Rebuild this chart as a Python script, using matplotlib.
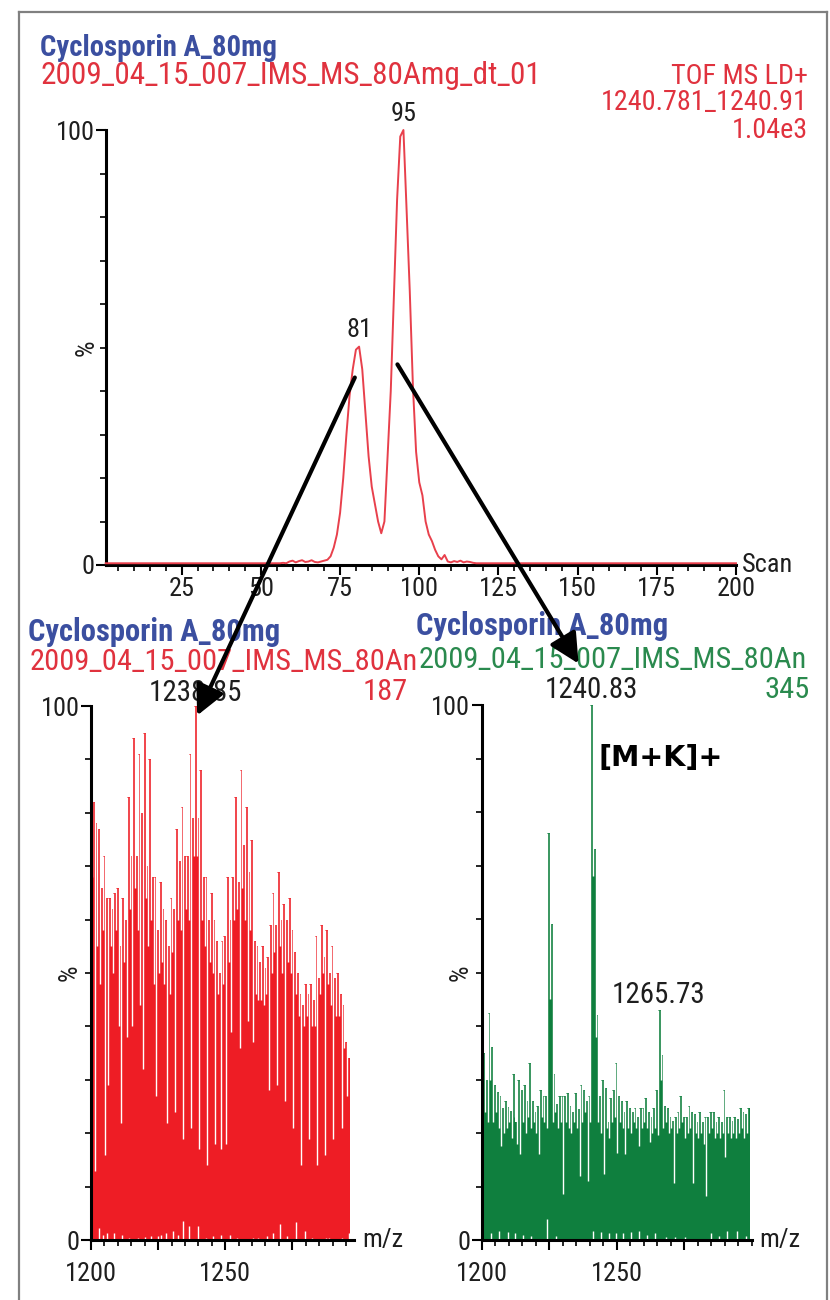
import numpy as np
import matplotlib
matplotlib.use("Agg")
import matplotlib.pyplot as plt
from matplotlib import font_manager
from matplotlib.patches import FancyArrowPatch
from matplotlib.lines import Line2D
from matplotlib.ticker import FixedLocator, MultipleLocator

# ---------------- data ----------------
chrom_scan = [1, 56, 57, 58, 59, 60, 61, 62, 63, 64, 65, 66, 67, 68, 69, 70,
              71, 72, 73, 74, 75, 76, 77, 78, 79, 80, 81, 82, 83, 84, 85, 86,
              87, 88, 89, 90, 91, 92, 93, 94, 95, 96, 97, 98, 99, 100, 101,
              102, 103, 104, 105, 106, 107, 108, 109, 110, 111, 112, 113, 114,
              115, 116, 117, 118, 200]
chrom_int = [0.4, 0.4, 0.5, 0.4, 0.8, 1.0, 0.6, 0.9, 1.1, 0.7, 0.8, 1.1, 0.7,
             0.6, 0.8, 1.0, 1.2, 2.0, 4.0, 7.0, 12.0, 20.0, 30.0, 39.0, 45.0,
             49.5, 50.2, 45.0, 35.0, 25.0, 18.0, 14.0, 10.0, 7.3, 10.0, 25.0,
             40.0, 62.0, 84.0, 98.5, 100.0, 81.6, 63.0, 41.0, 26.0, 19.0, 16.0,
             10.0, 7.0, 5.5, 3.5, 2.0, 1.3, 2.3, 0.8, 0.6, 0.9, 0.7, 1.0, 0.6,
             0.8, 0.7, 0.5, 0.4, 0.4]
chrom_peak_labels = [81, 95]

# left spectrum (red), one value per isotope step starting at 1199.85
red_start = 1199.85
red_peaks = [93, 82, 78, 77, 66, 72, 64, 64, 62, 65,
             66, 55, 64, 60, 83, 72, 94, 72, 91, 80,
             95, 70, 90, 68, 68, 58, 67, 62, 60, 55,
             64, 62, 77, 71, 81, 72, 72, 91, 79, 100,
             79, 88, 68, 68, 60, 65, 60, 56, 50, 56,
             57, 68, 60, 68, 83, 67, 88, 74, 81, 69,
             75, 56, 55, 52, 55, 51, 53, 59, 65, 59,
             69, 60, 63, 60, 64, 58, 54, 50, 46, 44,
             48, 46, 48, 45, 57, 49, 59, 53, 58, 50,
             55, 49, 50, 46, 44, 37, 34]
red_valleys = [68, 13, 55, 48, 58, 16, 29, 55, 50, 58,
               40, 22, 52, 38, 62, 40, 66, 58, 44, 32,
               64, 55, 60, 48, 27, 50, 52, 48, 22, 46,
               54, 24, 60, 58, 19, 62, 60, 21, 72, 72,
               17, 60, 55, 14, 52, 50, 18, 46, 17, 48,
               18, 52, 39, 60, 62, 36, 66, 60, 41, 58,
               37, 46, 45, 45, 44, 46, 28, 50, 54, 29,
               55, 50, 26, 52, 50, 21, 46, 42, 14, 40,
               42, 19, 40, 40, 14, 46, 50, 16, 48, 44,
               19, 42, 42, 21, 36, 27]
red_base_mz = [1202.9, 1204.6, 1205.9, 1208.7, 1211.6, 1214.3, 1217.4, 1220.3,
               1222.4, 1224.9, 1226.1, 1228.0, 1230.7, 1232.3, 1234.2, 1236.7,
               1239.8, 1242.9, 1245.4, 1248.5, 1251.8, 1254.3, 1260.5, 1262.4,
               1265.5, 1268.0, 1270.5, 1273.0, 1276.4, 1279.6, 1282.4, 1287.4,
               1288.6, 1293.6, 1296.1]
red_base_h = [2.3, 1.0, 1.3, 1.3, 1.0, 0.4, 0.4, 0.5, 0.7, 0.7, 1.0, 1.3,
              1.7, 1.0, 3.6, 2.6, 2.6, 0.4, 0.7, 1.0, 1.0, 0.4, 0.4, 0.4,
              0.7, 1.3, 3.0, 0.7, 3.3, 1.7, 0.4, 0.4, 0.4, 0.4, 1.3]
red_label_mz = [1238.85]

# right spectrum (green), starting at 1199.83
green_start = 1199.83
green_peaks = [28, 35, 30, 42.5, 36, 29, 27.6, 27, 24.6, 26,
               24.9, 24.2, 31, 22, 30, 28, 29, 26, 33, 26,
               24, 25, 28, 27, 27, 76, 59, 31, 25.5, 27,
               27, 27, 27.5, 25, 24, 27.5, 24.5, 29, 28, 26,
               27, 100, 73, 42, 27, 30, 28.5, 22, 26.5, 28,
               33, 27, 26, 24, 26, 24.6, 24, 24.6, 23, 24.6,
               24.6, 26.5, 24, 23, 24.6, 28, 43, 34.5, 25, 24.6,
               23, 22.3, 23, 24, 27, 23, 23, 25, 24, 23.6,
               22, 24, 22, 23, 23, 24, 24, 22, 23, 22,
               28, 23, 23, 22.3, 23, 22.6, 24.6, 24, 23.6, 24.6]
green_valleys = [12, 24, 22, 30, 22, 24, 21, 17.6, 20, 21,
                 22, 19, 23, 18, 16, 22, 20, 23, 21, 22,
                 20, 16, 23, 22, 21, 45, 22, 24, 21, 22,
                 8.6, 22, 21, 20, 22, 21, 12, 22, 24, 11,
                 22, 68, 38, 22, 20, 12.3, 21, 19, 22, 23,
                 16.3, 22, 21, 16, 21, 20, 22, 21, 17.6, 21,
                 22, 21, 18.3, 20, 21, 19.6, 30, 21, 22, 20,
                 21, 10.6, 20, 21, 22, 19, 20, 21, 10.6, 20,
                 19, 20, 18, 8.3, 20, 21, 19, 20, 19, 20,
                 15.6, 20, 19, 20, 19, 20, 21, 19, 20]
green_base_mz = [1203.4, 1206.4, 1209.7, 1212.5, 1215.4, 1218.4, 1224.4,
                 1227.7, 1241.3, 1244.4, 1247.1, 1249.9, 1252.4, 1255.4,
                 1258.3, 1261.3, 1264.3, 1268.3, 1271.6, 1275.2, 1285.1,
                 1288.1, 1291.0, 1294.6, 1298.0]
green_base_h = [1.3, 1.7, 1.5, 1.3, 1.0, 0.7, 4.0, 0.7, 1.7, 1.5, 1.3, 1.3,
                1.3, 1.5, 1.7, 1.0, 1.3, 0.5, 0.5, 0.5, 1.3, 0.7, 1.7, 1.7, 0.8]
green_label_mz = [1240.83, 1265.73]

title = "Cyclosporin A_80mg"
top_file = "2009_04_15_007_IMS_MS_80Amg_dt_01"
top_info = ["TOF MS LD+", "1240.781_1240.91", "1.04e3"]
bottom_file = "2009_04_15_007_IMS_MS_80An"
red_max = "187"
green_max = "345"
ion_label = "[M+K]+"

# ---------------- font choice (prefer a narrow Arial-like face) ----------------
entries = [(f.name, str(f.stretch)) for f in font_manager.fontManager.ttflist]
names = {n for n, _ in entries}
CONDENSED = {"condensed", "semi-condensed", "extra-condensed", "ultra-condensed",
             "500", "600", "700", "87.5", "75", "62.5"}
FAM, STRETCH = "Liberation Sans", "normal"
found = False
for cand in ["Liberation Sans Narrow", "Roboto Condensed", "Open Sans Condensed",
             "Noto Sans Condensed", "DejaVu Sans Condensed"]:
    if cand in names:
        FAM, STRETCH, found = cand, "normal", True
        break
if not found:
    for cand in ["Roboto", "Noto Sans", "Open Sans", "DejaVu Sans"]:
        if any(n == cand and s in CONDENSED for n, s in entries):
            FAM, STRETCH = cand, "condensed"
            break
FAMS = [FAM, "DejaVu Sans"]
plt.rcParams["font.family"] = FAMS
plt.rcParams["font.stretch"] = STRETCH

BLUE = "#3b4fa0"
RED_T = "#e0323e"
RED_LINE = "#e8404c"
RED_FILL = "#ee1d25"
GREEN_T = "#2a8a4e"
GREEN_FILL = "#0f7f3e"
TXT = "#1e1e1e"

W, H = 830, 1300
fig = plt.figure(figsize=(W / 100, H / 100), dpi=100)
renderer = fig.canvas.get_renderer()


def fit(s, width_px, weight="normal", family=None):
    t = fig.text(0, 0, s, fontsize=10, fontweight=weight, family=family or FAMS,
                 fontstretch=STRETCH)
    w = t.get_window_extent(renderer).width
    t.remove()
    return 10 * width_px / w


def P(x, y):
    return (x / W, 1 - y / H)


def add_ax(l, t, r, b):
    return fig.add_axes([l / W, 1 - b / H, (r - l) / W, (b - t) / H])


def ftext(x, y, s, size, color=TXT, ha="left", va="center", weight="normal"):
    fig.text(*P(x, y), s, fontsize=size, color=color, ha=ha, va=va,
             fontweight=weight, family=FAMS, fontstretch=STRETCH)


TICK_FS = fit("1200", 51)
LABEL_FS = fit("1265.73", 93)
S_TITLE_TOP = fit(title, 236, "bold")
S_TITLE_BOT = fit(title, 252, "bold")
S_FILE_TOP = fit(top_file, 497)
S_INFO = 0.5 * (fit(top_info[1], 216) + fit(top_info[0], 130))
S_FILE_BOT = fit(bottom_file, 384)
S_ION = fit(ion_label, 124, "bold", ["DejaVu Sans"])


def style_axes(ax, pct_dx, xpad):
    for s in ("top", "right"):
        ax.spines[s].set_visible(False)
    for s in ("left", "bottom"):
        ax.spines[s].set_linewidth(2.2)
        ax.spines[s].set_color("black")
        ax.spines[s].set_zorder(4)
    ax.set_facecolor("none")
    ax.set_ylim(0, 100)
    ax.yaxis.set_major_locator(FixedLocator([0, 100]))
    ax.yaxis.set_minor_locator(FixedLocator(list(range(10, 100, 10))))
    ax.tick_params(which="major", direction="out", length=7, width=1.5,
                   labelsize=TICK_FS, pad=1, labelcolor=TXT)
    ax.tick_params(axis="x", which="major", pad=xpad)
    ax.tick_params(which="minor", direction="out", length=4, width=1.2)
    ax.annotate("%", xy=(0, 0.5), xycoords="axes fraction", xytext=(pct_dx, 0),
                textcoords="offset pixels", rotation=90, ha="center", va="center",
                fontsize=TICK_FS, color=TXT)


# ---------------- top chromatogram ----------------
ax1 = add_ax(105.7, 130, 736, 565)
style_axes(ax1, -19, 2)
ax1.set_xlim(1, 200)
ax1.xaxis.set_major_locator(FixedLocator([25, 50, 75, 100, 125, 150, 175, 200]))
ax1.xaxis.set_minor_locator(MultipleLocator(5))
ax1.plot(chrom_scan, chrom_int, color=RED_LINE, lw=1.4, clip_on=False, zorder=5)
for s in chrom_peak_labels:
    yv = chrom_int[chrom_scan.index(s)]
    ax1.annotate(str(s), xy=(s, yv), xytext=(0, 3), textcoords="offset points",
                 ha="center", va="bottom", fontsize=TICK_FS, color=TXT)
ax1.annotate("Scan", xy=(1, 0), xycoords="axes fraction", xytext=(6, 0),
             textcoords="offset pixels", ha="left", va="center", fontsize=TICK_FS,
             color=TXT)


# ---------------- spectra ----------------
def draw_spec(ax, start, peaks, valleys, base_mz, base_h, color):
    x = start + np.arange(len(peaks))
    pk = np.array(peaks, float)
    ax.bar(x, pk, width=1.0, color=color, linewidth=0, zorder=2)
    edges = x[:-1] + 0.5
    tops = np.maximum(pk[:-1], pk[1:])
    ax.vlines(edges, valleys, tops, color="white", lw=1.0, zorder=3)
    ax.vlines(base_mz, 0, base_h, color="white", lw=1.0, zorder=3)
    return x, pk


def spec_axes(ax, xmax):
    style_axes(ax, -21, 9)
    ax.set_xlim(1200, xmax)
    ax.xaxis.set_major_locator(FixedLocator([1200, 1225, 1250, 1275]))
    ax.set_xticklabels(["1200", "", "1250", ""])
    ax.xaxis.set_minor_locator(MultipleLocator(5))
    ax.annotate("m/z", xy=(1, 0), xycoords="axes fraction", xytext=(8, 0),
                textcoords="offset pixels", ha="left", va="center",
                fontsize=TICK_FS, color=TXT)


ax2 = add_ax(91, 706, 354, 1240)
spec_axes(ax2, 1298)
xr, pr = draw_spec(ax2, red_start, red_peaks, red_valleys, red_base_mz, red_base_h, RED_FILL)
for m in red_label_mz:
    i = int(np.argmin(np.abs(xr - m)))
    ax2.annotate(f"{m:.2f}", xy=(m, pr[i]), xytext=(0, -1), textcoords="offset points",
                 ha="center", va="bottom", fontsize=LABEL_FS, color=TXT,
                 annotation_clip=False)

ax3 = add_ax(481.5, 705, 751.5, 1240)
spec_axes(ax3, 1300)
xg, pg = draw_spec(ax3, green_start, green_peaks, green_valleys, green_base_mz, green_base_h, GREEN_FILL)
for m in green_label_mz:
    i = int(np.argmin(np.abs(xg - m)))
    ax3.annotate(f"{m:.2f}", xy=(m, pg[i]), xytext=(0, 1), textcoords="offset points",
                 ha="center", va="bottom", fontsize=LABEL_FS, color=TXT,
                 annotation_clip=False)

# ---------------- header texts ----------------
ftext(40, 48, title, S_TITLE_TOP, BLUE, weight="bold")
ftext(40, 76, top_file, S_FILE_TOP, RED_T)
for k, s in enumerate(top_info):
    ftext(808, 76 + 27 * k, s, S_INFO, RED_T, ha="right")

ftext(28, 632, title, S_TITLE_BOT, BLUE, weight="bold")
ftext(30, 662, bottom_file, S_FILE_BOT, RED_T)
ftext(408, 692, red_max, S_FILE_BOT, RED_T, ha="right")

ftext(416, 626, title, S_TITLE_BOT, BLUE, weight="bold")
ftext(419, 660, bottom_file, S_FILE_BOT, GREEN_T)
ftext(810, 690, green_max, S_FILE_BOT, GREEN_T, ha="right")

fig.text(*P(598, 758), ion_label, fontsize=S_ION, fontweight="bold", color="black",
         ha="left", va="center", family="DejaVu Sans")

# ---------------- arrows ----------------
for (x0, y0), (x1, y1) in [((356, 375), (196, 718)), ((396, 362), (580, 666))]:
    arr = FancyArrowPatch(P(x0, y0), P(x1, y1), transform=fig.transFigure,
                          arrowstyle="-|>,head_length=0.9,head_width=0.45",
                          mutation_scale=20, lw=3, color="black", zorder=10)
    fig.add_artist(arr)

# ---------------- frame ----------------
for (xa, ya), (xb, yb) in [((19, 12), (19, 1300)), ((19, 12), (827, 12)), ((827, 12), (827, 1300))]:
    fig.add_artist(Line2D([xa / W, xb / W], [1 - ya / H, 1 - yb / H], color="#808080", lw=1.6))

fig.savefig("out.png", dpi=100)
